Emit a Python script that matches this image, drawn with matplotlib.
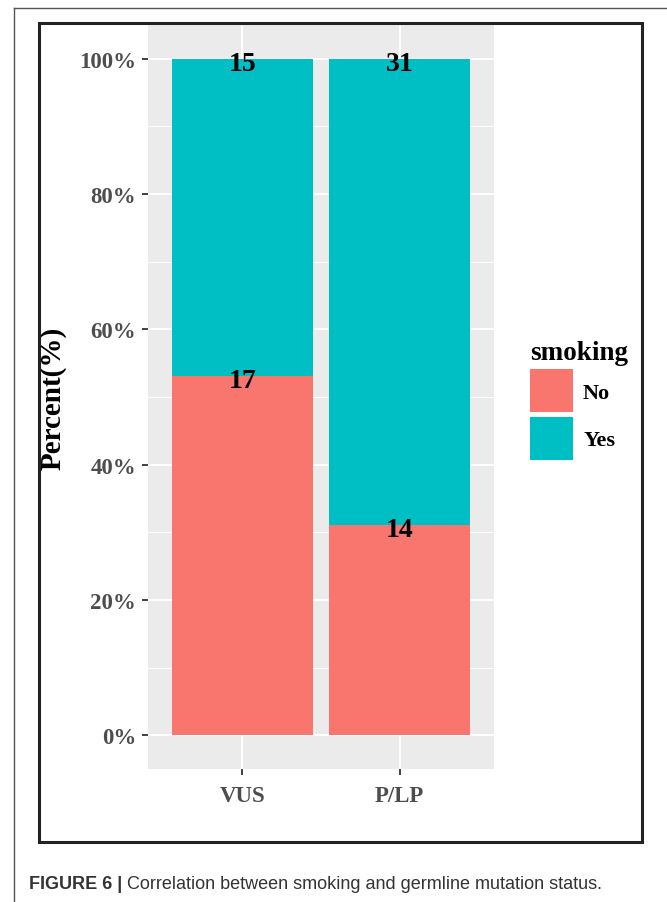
import numpy as np
import matplotlib
matplotlib.use("Agg")
import matplotlib.pyplot as plt
from matplotlib.patches import Patch, Rectangle
from matplotlib.lines import Line2D

# data
categories = ["VUS", "P/LP"]
groups = ["No", "Yes"]
counts_no = [17, 14]
counts_yes = [15, 31]
yticks = [0.0, 0.2, 0.4, 0.6, 0.8, 1.0]
ytick_labels = ["0%", "20%", "40%", "60%", "80%", "100%"]

col_no = "#F8766D"
col_yes = "#00BFC4"
serif = "Liberation Serif"

W, H = 667, 903
fig = plt.figure(figsize=(W / 100, H / 100), dpi=100)

# panel placement (pixels from top-left)
px_l, px_r, px_t, px_b = 148, 494, 26, 770
ax = fig.add_axes([px_l / W, 1 - px_b / H, (px_r - px_l) / W, (px_b - px_t) / H])

no = np.array(counts_no, dtype=float)
yes = np.array(counts_yes, dtype=float)
tot = no + yes
frac_no = no / tot
frac_yes = yes / tot
x = np.arange(len(categories))

ax.set_facecolor("#EBEBEB")
ax.bar(x, frac_no, width=0.9, color=col_no, zorder=3)
ax.bar(x, frac_yes, width=0.9, bottom=frac_no, color=col_yes, zorder=3)

# count labels at top of each segment
for xi, n, f in zip(x, no, frac_no):
    ax.text(xi, f - 0.007, f"{int(n)}", ha="center", va="center",
            fontsize=20, fontweight="bold", family=serif, color="black", zorder=5)
for xi, n in zip(x, yes):
    ax.text(xi, 1.0 - 0.007, f"{int(n)}", ha="center", va="center",
            fontsize=20, fontweight="bold", family=serif, color="black", zorder=5)

ax.set_xlim(-0.6, len(categories) - 0.4)
ax.set_ylim(-0.05, 1.05)
ax.set_xticks(x)
ax.set_xticklabels(categories)
ax.set_yticks(yticks)
ax.set_yticklabels(ytick_labels)
ax.set_yticks([0.1, 0.3, 0.5, 0.7, 0.9], minor=True)

ax.grid(True, which="major", color="white", linewidth=1.4, zorder=1)
ax.grid(True, which="minor", axis="y", color="white", linewidth=0.7, zorder=1)
ax.tick_params(axis="both", which="major", length=4.5, width=1.3, color="#333333",
               labelcolor="#4D4D4D", labelsize=16.5)
ax.tick_params(axis="y", which="major", pad=4)
ax.tick_params(axis="x", which="major", pad=7)
ax.tick_params(which="minor", length=0)
for lab in ax.get_xticklabels() + ax.get_yticklabels():
    lab.set_family(serif)
    lab.set_fontweight("bold")
for s in ax.spines.values():
    s.set_visible(False)

ax.set_ylabel("Percent(%)", fontsize=21, fontweight="bold", family=serif, color="black")
ax.yaxis.label.set_va("center")
ax.yaxis.set_label_coords((53 - px_l) / (px_r - px_l), 0.5)

# legend
handles = [Patch(facecolor=col_no, edgecolor="none", label="No"),
           Patch(facecolor=col_yes, edgecolor="none", label="Yes")]
leg = fig.legend(handles=handles, title="smoking", loc="upper left",
                 bbox_to_anchor=(530 / W, 1 - 341 / H), frameon=False,
                 prop={"family": serif, "weight": "bold", "size": 16},
                 title_fontproperties={"family": serif, "weight": "bold", "size": 19.5},
                 handlelength=1.94, handleheight=2.6, labelspacing=0.2,
                 handletextpad=0.45, borderpad=0, borderaxespad=0, alignment="left")

# black frame around plot
fig.add_artist(Rectangle((39 / W, 1 - 843 / H), 603 / W, 819 / H, transform=fig.transFigure,
                         fill=False, edgecolor="#222222", linewidth=2.2))
# outer page lines
fig.add_artist(Line2D([14 / W, 14 / W], [0, 1 - 9 / H], transform=fig.transFigure,
                      color="#555555", linewidth=1.0))
fig.add_artist(Line2D([14 / W, 1], [1 - 9 / H, 1 - 9 / H], transform=fig.transFigure,
                      color="#555555", linewidth=1.0))

# caption
cap1 = fig.text(29 / W, 1 - 885 / H, "FIGURE 6 |", fontsize=13, fontweight="bold",
                family="Liberation Sans", color="#333333", va="center", ha="left")
renderer = fig.canvas.get_renderer()
bb = cap1.get_window_extent(renderer=renderer)
fig.text(bb.x1 / W + 5 / W, 1 - 885 / H,
         "Correlation between smoking and germline mutation status.",
         fontsize=13, family="Liberation Sans", color="#333333", va="center", ha="left")

fig.savefig("out.png", dpi=100)
